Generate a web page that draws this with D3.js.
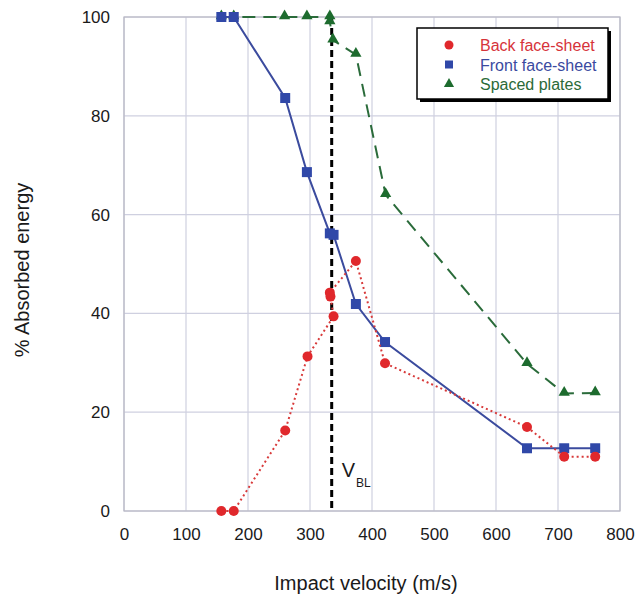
<!DOCTYPE html>
<html>
<head>
<meta charset="utf-8">
<script src="https://cdn.jsdelivr.net/npm/d3@7"></script>
<style>
  html, body { margin: 0; padding: 0; background: #fff; }
  svg { display: block; font-family: "Liberation Sans", Arial, sans-serif; }
</style>
</head>
<body>
<svg id="chart" width="637" height="597"></svg>
<script>
// Impact velocity (m/s) and % absorbed energy for each configuration
const backVelocity   = [157, 177, 260, 296, 338, 333, 332, 374, 421, 650, 710, 760];
const backEnergy     = [0, 0, 16.3, 31.3, 39.4, 43.4, 44.2, 50.6, 29.9, 17.0, 11.0, 11.0];

const frontVelocity  = [157, 177, 260, 295, 332, 338, 374, 421, 650, 710, 760];
const frontEnergy    = [100, 100, 83.6, 68.6, 56.2, 55.9, 41.9, 34.2, 12.7, 12.7, 12.7];

const spacedVelocity = [157, 177, 259, 295, 332, 332, 337, 374, 422, 650, 710, 760];
const spacedEnergy   = [100, 100, 100, 100, 100, 99, 95.3, 92.4, 64.0, 29.8, 23.8, 23.9];

const ballisticLimit = 335;

const xTicks = [0, 100, 200, 300, 400, 500, 600, 700, 800];
const yTicks = [0, 20, 40, 60, 80, 100];

const seriesNames = ["Back face-sheet", "Front face-sheet", "Spaced plates"];

const svg = d3.select("#chart");
const plotLeft = 124, plotRight = 620, plotTop = 17, plotBottom = 511;

const x = d3.scaleLinear().domain([0, 800]).range([plotLeft, plotRight]);
const y = d3.scaleLinear().domain([0, 100]).range([plotBottom, plotTop]);

// grid
const grid = svg.append("g");
grid.selectAll("line.v").data(xTicks).join("line")
  .attr("x1", d => x(d)).attr("x2", d => x(d))
  .attr("y1", plotTop).attr("y2", plotBottom)
  .attr("stroke", "#cfd0e0").attr("stroke-width", 1.2);
grid.selectAll("line.h").data(yTicks).join("line")
  .attr("x1", plotLeft).attr("x2", plotRight)
  .attr("y1", d => y(d)).attr("y2", d => y(d))
  .attr("stroke", "#cfd0e0").attr("stroke-width", 1.2);
svg.append("rect")
  .attr("x", plotLeft).attr("y", plotTop)
  .attr("width", plotRight - plotLeft).attr("height", plotBottom - plotTop)
  .attr("fill", "none").attr("stroke", "#b8b8c4").attr("stroke-width", 1.2);

// axes (labels only)
const xAxis = svg.append("g")
  .attr("transform", `translate(0,${plotBottom + 13})`)
  .call(d3.axisBottom(x).tickValues(xTicks).tickSize(0).tickPadding(4));
const yAxis = svg.append("g")
  .attr("transform", `translate(${plotLeft - 12},0)`)
  .call(d3.axisLeft(y).tickValues(yTicks).tickSize(0).tickPadding(2));
[xAxis, yAxis].forEach(g => {
  g.select(".domain").remove();
  g.selectAll("text")
    .attr("font-family", "'Liberation Sans', Arial, sans-serif")
    .attr("font-size", 17).attr("fill", "#1a1a1a");
});

// axis titles
svg.append("text")
  .attr("x", x(400) - 6).attr("y", 590)
  .attr("text-anchor", "middle")
  .attr("font-size", 20).attr("fill", "#1a1a1a")
  .text("Impact velocity (m/s)");
svg.append("text")
  .attr("transform", `translate(29,${(plotTop + plotBottom) / 2 + 6}) rotate(-90)`)
  .attr("text-anchor", "middle")
  .attr("font-size", 20).attr("fill", "#1a1a1a")
  .text("% Absorbed energy");

// ballistic limit line
svg.append("line")
  .attr("x1", x(ballisticLimit)).attr("x2", x(ballisticLimit))
  .attr("y1", y(100)).attr("y2", y(0))
  .attr("stroke", "#000").attr("stroke-width", 3)
  .attr("stroke-dasharray", "7,4");
const vbl = svg.append("text")
  .attr("x", x(ballisticLimit) + 10).attr("y", 477)
  .attr("font-size", 20).attr("fill", "#1a1a1a");
vbl.append("tspan").text("V");
vbl.append("tspan").attr("font-size", 12).attr("dx", 1).attr("dy", 10).text("BL");

const pts = (xs, ys) => xs.map((v, i) => [v, ys[i]]);
const line = d3.line().x(d => x(d[0])).y(d => y(d[1]));

const spaced = pts(spacedVelocity, spacedEnergy);
const front = pts(frontVelocity, frontEnergy);
const back = pts(backVelocity, backEnergy);

const green = "#1d6b2e", blue = "#3048a8", red = "#e0282c";

// spaced plates
svg.append("path").datum(spaced).attr("d", line)
  .attr("fill", "none").attr("stroke", "#2a6b3a").attr("stroke-width", 2)
  .attr("stroke-dasharray", "13,8");
const tri = d3.symbol().type(d3.symbolTriangle).size(55);
svg.append("g").selectAll("path").data(spaced).join("path")
  .attr("d", tri)
  .attr("transform", d => `translate(${x(d[0])},${y(d[1]) - 1})`)
  .attr("fill", green);

// front face-sheet
svg.append("path").datum(front).attr("d", line)
  .attr("fill", "none").attr("stroke", "#3b4b9e").attr("stroke-width", 2);
svg.append("g").selectAll("rect").data(front).join("rect")
  .attr("x", d => x(d[0]) - 5).attr("y", d => y(d[1]) - 5)
  .attr("width", 10).attr("height", 10)
  .attr("fill", blue);

// back face-sheet
svg.append("path").datum(back).attr("d", line)
  .attr("fill", "none").attr("stroke", "#d83a3a").attr("stroke-width", 2)
  .attr("stroke-dasharray", "2,3");
svg.append("g").selectAll("circle").data(back).join("circle")
  .attr("cx", d => x(d[0])).attr("cy", d => y(d[1]))
  .attr("r", 5).attr("fill", red);

// legend
const lg = svg.append("g");
lg.append("rect").attr("x", 420).attr("y", 31).attr("width", 191).attr("height", 71)
  .attr("fill", "#000");
lg.append("rect").attr("x", 417).attr("y", 28).attr("width", 191).attr("height", 71)
  .attr("fill", "#fff").attr("stroke", "#000").attr("stroke-width", 1.5);
const legendColors = ["#d6333a", "#3a4aa0", "#2b6a38"];
seriesNames.forEach((name, i) => {
  const cy = 45 + i * 19.5;
  if (i === 0) {
    lg.append("circle").attr("cx", 449).attr("cy", cy).attr("r", 4.5).attr("fill", red);
  } else if (i === 1) {
    lg.append("rect").attr("x", 445).attr("y", cy - 4).attr("width", 8).attr("height", 8).attr("fill", blue);
  } else {
    lg.append("path").attr("d", d3.symbol().type(d3.symbolTriangle).size(45))
      .attr("transform", `translate(449,${cy})`).attr("fill", green);
  }
  lg.append("text").attr("x", 480).attr("y", cy + 6)
    .attr("font-size", 16).attr("fill", legendColors[i]).text(name);
});
</script>
</body>
</html>
